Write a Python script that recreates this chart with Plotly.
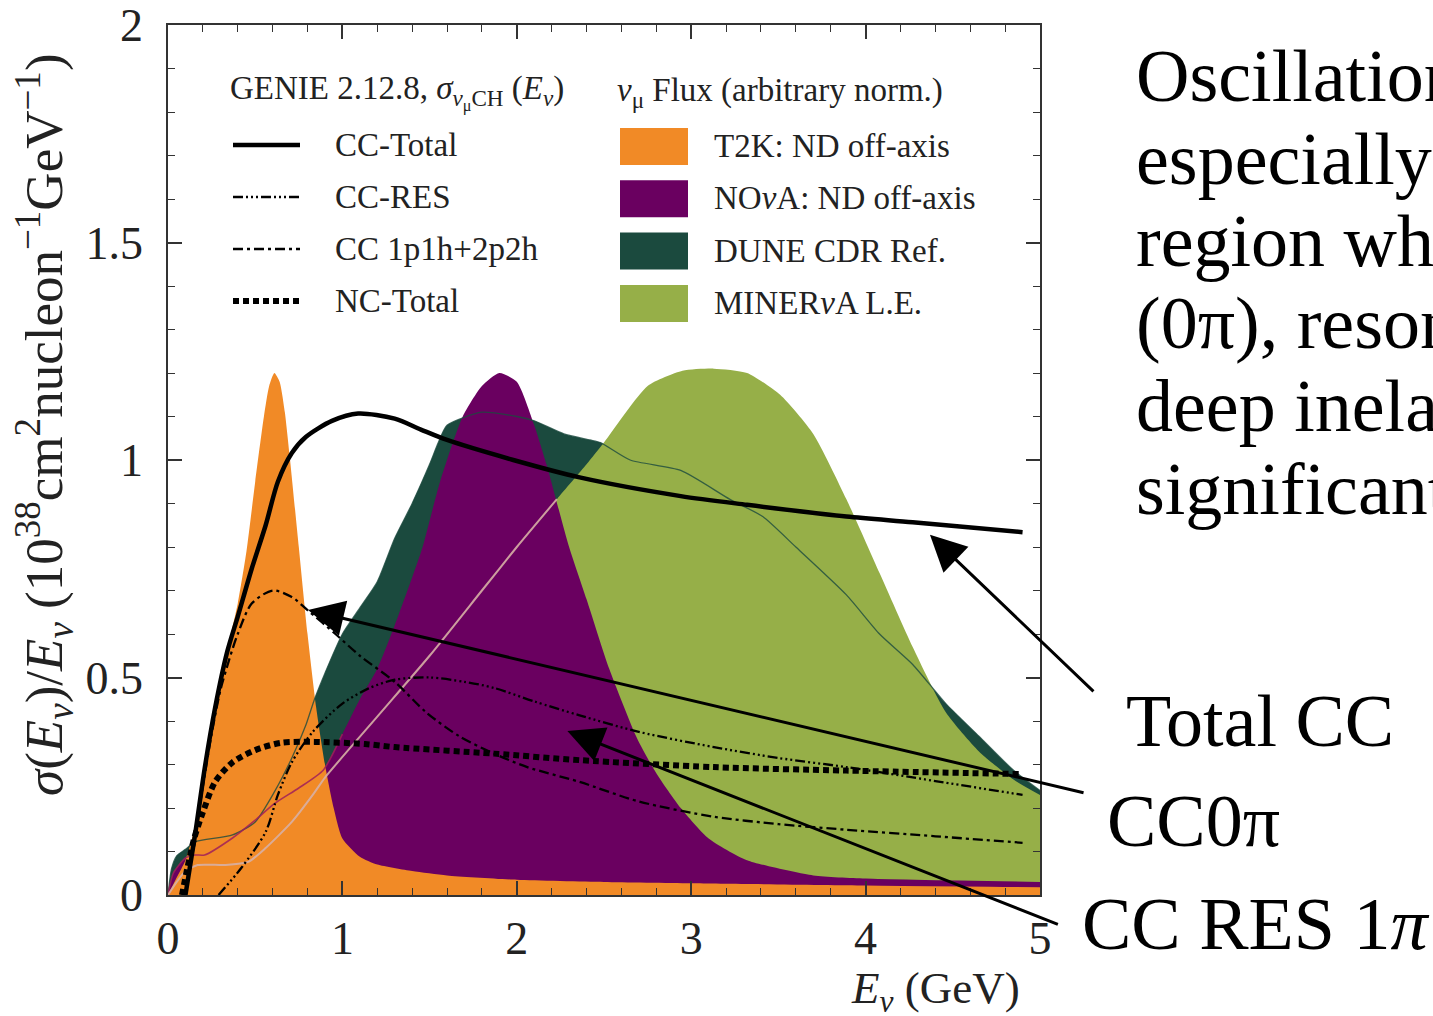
import plotly.graph_objects as go

# ---------------- data ----------------
# Flux shapes (arbitrary normalisation)
t2k_E = [0, 0.05, 0.1, 0.15, 0.2, 0.25, 0.3, 0.35, 0.4, 0.45, 0.5, 0.55, 0.58, 0.61, 0.64, 0.67, 0.7,
         0.75, 0.8, 0.85, 0.9, 0.95, 1.0, 1.1, 1.2, 1.4, 1.6, 2.0, 2.5, 3.0, 4.0, 5.0]
t2k_v = [0, 0.04, 0.08, 0.15, 0.28, 0.38, 0.48, 0.58, 0.67, 0.79, 0.95, 1.1, 1.17, 1.2, 1.18, 1.11, 1.0,
         0.8, 0.6, 0.43, 0.3, 0.2, 0.13, 0.088, 0.07, 0.055, 0.045, 0.035, 0.03, 0.027, 0.022, 0.018]

nova_E = [0, 0.03, 0.1, 0.155, 0.21, 0.37, 0.5, 0.61, 0.75, 0.89, 1.0, 1.1, 1.2, 1.3, 1.4, 1.46,
          1.56, 1.69, 1.8, 1.9, 2.0, 2.1, 2.17, 2.3, 2.4, 2.53, 2.69, 2.8, 2.94, 3.1, 3.32, 3.7,
          4.0, 5.0]
nova_v = [0, 0.05, 0.085, 0.092, 0.092, 0.131, 0.172, 0.21, 0.246, 0.287, 0.37, 0.45, 0.52, 0.62,
          0.73, 0.8, 0.95, 1.1, 1.17, 1.2, 1.18, 1.08, 0.99, 0.8, 0.68, 0.52, 0.36, 0.28, 0.2, 0.13,
          0.08, 0.045, 0.038, 0.03]

dune_E = [0, 0.02, 0.05, 0.1, 0.155, 0.37, 0.5, 0.61, 0.71, 0.79, 0.84, 0.9, 1.0, 1.1, 1.2, 1.3,
          1.4, 1.5, 1.55, 1.6, 1.8, 2.0, 2.1, 2.27, 2.42, 2.48, 2.65, 2.94, 3.22, 3.41, 3.6, 3.89,
          4.08, 4.27, 4.46, 4.65, 4.85, 5.0]
dune_v = [0, 0.06, 0.09, 0.105, 0.122, 0.138, 0.168, 0.237, 0.315, 0.39, 0.45, 0.51, 0.6, 0.66,
          0.72, 0.82, 0.9, 0.99, 1.04, 1.08, 1.11, 1.1, 1.09, 1.06, 1.046, 1.04, 1.0, 0.976, 0.91,
          0.87, 0.8, 0.69, 0.6, 0.53, 0.44, 0.365, 0.286, 0.24]

minerva_E = [0, 0.05, 0.1, 0.17, 0.33, 0.46, 0.56, 0.71, 0.83, 0.9, 1.2, 1.5, 1.8, 2.0, 2.23, 2.4,
             2.5, 2.75, 2.95, 3.13, 3.32, 3.51, 3.7, 3.89, 4.08, 4.27, 4.46, 4.65, 4.85, 5.0]
minerva_v = [0, 0.03, 0.055, 0.069, 0.069, 0.076, 0.108, 0.168, 0.23, 0.27, 0.41, 0.55, 0.7, 0.8,
             0.91, 0.99, 1.04, 1.17, 1.205, 1.21, 1.2, 1.15, 1.06, 0.91, 0.74, 0.57, 0.42, 0.33,
             0.265, 0.23]

# GENIE cross sections sigma/E (1e-38 cm^2 / nucleon / GeV)
cc_total_E = [0.1, 0.155, 0.21, 0.27, 0.34, 0.4, 0.48, 0.56, 0.63, 0.71, 0.79, 0.94, 1.09, 1.3,
              1.45, 1.6, 1.98, 2.36, 2.94, 3.32, 3.89, 4.27, 4.9]
cc_total_v = [0.0, 0.138, 0.29, 0.43, 0.56, 0.64, 0.75, 0.85, 0.95, 1.016, 1.053, 1.09, 1.107,
              1.095, 1.07, 1.046, 1.0, 0.96, 0.917, 0.897, 0.87, 0.857, 0.834]

cc_res_E = [0.29, 0.42, 0.56, 0.63, 0.71, 0.83, 1.0, 1.15, 1.3, 1.5, 1.7, 1.87, 2.1, 2.36, 2.7,
            3.13, 3.5, 3.89, 4.4, 4.9]
cc_res_v = [0.0, 0.062, 0.145, 0.23, 0.305, 0.375, 0.44, 0.475, 0.495, 0.5, 0.49, 0.476, 0.445,
            0.413, 0.375, 0.34, 0.315, 0.294, 0.262, 0.23]

cc_qe_E = [0.1, 0.15, 0.2, 0.25, 0.3, 0.35, 0.4, 0.48, 0.6, 0.71, 0.8, 0.96, 1.1, 1.3, 1.48,
           1.67, 1.87, 2.06, 2.36, 2.7, 3.13, 3.5, 3.89, 4.4, 4.9]
cc_qe_v = [0.0, 0.12, 0.25, 0.37, 0.47, 0.54, 0.6, 0.67, 0.70, 0.685, 0.655, 0.6, 0.55, 0.49,
           0.42, 0.365, 0.325, 0.294, 0.26, 0.215, 0.18, 0.163, 0.15, 0.135, 0.12]

nc_total_E = [0.08, 0.11, 0.15, 0.2, 0.27, 0.37, 0.5, 0.65, 0.84, 1.13, 1.3, 1.87, 2.36, 3.13,
              3.89, 4.9]
nc_total_v = [0.0, 0.06, 0.13, 0.19, 0.26, 0.305, 0.333, 0.35, 0.352, 0.347, 0.34, 0.325, 0.31,
              0.294, 0.286, 0.278]

flux_names = ["T2K: ND off-axis", "NO<i>ν</i>A: ND off-axis", "DUNE CDR Ref.", "MINER<i>ν</i>A L.E."]
xsec_names = ["CC-Total", "CC-RES", "CC 1p1h+2p2h", "NC-Total"]
x_tick_vals = [0, 1, 2, 3, 4, 5]
y_tick_vals = [0, 0.5, 1, 1.5, 2]

# ---------------- styles ----------------
C_T2K = "rgb(241,138,38)"
C_NOVA = "rgb(106,0,96)"
C_DUNE = "rgb(27,74,62)"
C_MIN = "rgb(150,175,72)"
SERIF = "Liberation Serif"

xsec_styles = {
    "CC-Total": dict(width=4.5, dash="solid"),
    "CC-RES": dict(width=2.3, dash="10px,3px,2px,3px,2px,3px,2px,3px"),
    "CC 1p1h+2p2h": dict(width=2.3, dash="10px,4px,3px,4px"),
    "NC-Total": dict(width=6, dash="6px,4px"),
}

fig = go.Figure()

# flux fills: DUNE at back, then MINERvA, NOvA, T2K on top
for E, v, col in [(dune_E, dune_v, C_DUNE), (minerva_E, minerva_v, C_MIN),
                  (nova_E, nova_v, C_NOVA), (t2k_E, t2k_v, C_T2K)]:
    fig.add_trace(go.Scatter(x=E, y=v, mode="lines", fill="tozeroy", fillcolor=col,
                             line=dict(width=0, color=col, shape="spline", smoothing=0.6),
                             hoverinfo="skip", showlegend=False))

# thin flux outlines drawn over the fills
fig.add_trace(go.Scatter(x=dune_E, y=dune_v, mode="lines",
                         line=dict(width=1.3, color="rgba(27,74,62,0.8)", shape="spline", smoothing=0.6),
                         hoverinfo="skip", showlegend=False))
fig.add_trace(go.Scatter(x=[e for e in nova_E if e <= 1.0], y=[v for e, v in zip(nova_E, nova_v) if e <= 1.0],
                         mode="lines",
                         line=dict(width=1.6, color="rgba(160,30,90,0.85)", shape="spline", smoothing=0.6),
                         hoverinfo="skip", showlegend=False))
fig.add_trace(go.Scatter(x=[e for e in minerva_E if e <= 2.3], y=[v for e, v in zip(minerva_E, minerva_v) if e <= 2.3],
                         mode="lines",
                         line=dict(width=2, color="rgba(215,175,165,0.9)", shape="spline", smoothing=0.6),
                         hoverinfo="skip", showlegend=False))

# cross-section curves
for name, E, v in [("NC-Total", nc_total_E, nc_total_v), ("CC 1p1h+2p2h", cc_qe_E, cc_qe_v),
                   ("CC-RES", cc_res_E, cc_res_v), ("CC-Total", cc_total_E, cc_total_v)]:
    st = xsec_styles[name]
    fig.add_trace(go.Scatter(x=E, y=v, mode="lines", name=name,
                             line=dict(color="black", width=st["width"], dash=st["dash"],
                                       shape="spline", smoothing=0.8),
                             hoverinfo="skip", showlegend=False))

# ---------------- layout helpers ----------------
L, R, T, B = 168, 1040, 25, 895


def px(x):
    return (x - L) / (R - L)


def py(y):
    return (B - y) / (B - T)


shapes = []
annotations = []

# legend, left column (cross sections)
annotations.append(dict(xref="paper", yref="paper", x=px(228), y=py(93), xanchor="left", yanchor="middle",
                        text="GENIE 2.12.8, <i>σ</i><sub><i>ν</i><sub>μ</sub>CH</sub> (<i>E</i><sub><i>ν</i></sub>)",
                        showarrow=False, font=dict(family=SERIF, size=33, color="#222")))
for i, name in enumerate(xsec_names):
    yc = 145 + 52 * i
    st = xsec_styles[name]
    shapes.append(dict(type="line", xref="paper", yref="paper", x0=px(233), x1=px(300), y0=py(yc), y1=py(yc),
                       line=dict(color="black", width=st["width"], dash=st["dash"])))
    annotations.append(dict(xref="paper", yref="paper", x=px(333), y=py(yc), xanchor="left", yanchor="middle",
                            text=name, showarrow=False, font=dict(family=SERIF, size=33, color="#222")))

# legend, right column (fluxes)
annotations.append(dict(xref="paper", yref="paper", x=px(615), y=py(93), xanchor="left", yanchor="middle",
                        text="<i>ν</i><sub>μ</sub> Flux (arbitrary norm.)",
                        showarrow=False, font=dict(family=SERIF, size=33, color="#222")))
for i, (name, col) in enumerate(zip(flux_names, [C_T2K, C_NOVA, C_DUNE, C_MIN])):
    top = 128 + 52.3 * i
    shapes.append(dict(type="rect", xref="paper", yref="paper", x0=px(620), x1=px(688),
                       y0=py(top + 37), y1=py(top), fillcolor=col, line=dict(width=0)))
    annotations.append(dict(xref="paper", yref="paper", x=px(712), y=py(top + 18), xanchor="left",
                            yanchor="middle", text=name, showarrow=False,
                            font=dict(family=SERIF, size=33, color="#222")))

# axis titles
annotations.append(dict(xref="paper", yref="paper", x=px(44), y=py(425), xanchor="center", yanchor="middle",
                        textangle=-90, showarrow=False,
                        text="<i>σ</i>(<i>E</i><sub><i>ν</i></sub>)/<i>E</i><sub><i>ν</i></sub> (10<sup>38</sup>cm<sup>2</sup>nucleon<sup>−1</sup>GeV<sup>−1</sup>)",
                        font=dict(family=SERIF, size=53, color="#222")))
annotations.append(dict(xref="paper", yref="paper", x=px(1022), y=py(991), xanchor="right", yanchor="middle",
                        text="<i>E</i><sub><i>ν</i></sub> (GeV)", showarrow=False,
                        font=dict(family=SERIF, size=45, color="#222")))

# right-hand text (cut by the page edge)
side_lines = ["Oscillation experiments", "especially in the", "region where", "(0π), resonant",
              "deep inelastic", "significant"]
for i, s in enumerate(side_lines):
    annotations.append(dict(xref="paper", yref="paper", x=px(1134), y=py(76 + 82.5 * i), xanchor="left",
                            yanchor="middle", text=s, showarrow=False,
                            font=dict(family=SERIF, size=74, color="black")))

labels = [("Total CC", 1124, 721), ("CC0π", 1105, 821), ("CC RES 1<i>π</i>", 1080, 924)]
for s, x, y in labels:
    annotations.append(dict(xref="paper", yref="paper", x=px(x), y=py(y), xanchor="left", yanchor="middle",
                            text=s, showarrow=False, font=dict(family=SERIF, size=74, color="black")))

# arrows (head on the curve, tail next to the label)
arrows = [(4.369, 0.828, 165, 158), (0.803, 0.655, 777, 183), (2.29, 0.377, 492, 194)]
for hx, hy, ax, ay in arrows:
    annotations.append(dict(xref="x", yref="y", x=hx, y=hy, ax=ax, ay=ay, axref="pixel", ayref="pixel",
                            text="", showarrow=True, arrowhead=2, arrowsize=2.4, arrowwidth=3,
                            arrowcolor="black", standoff=0))

axis_common = dict(showline=True, linecolor="#333", linewidth=1.6, mirror="allticks", ticks="inside",
                   ticklen=14, tickwidth=1.5, tickcolor="#333", showgrid=False, zeroline=False,
                   automargin=False,
                   tickfont=dict(family=SERIF, size=46, color="#222"))

fig.update_layout(
    width=1433, height=1016,
    margin=dict(l=L, r=1433 - R, t=T, b=1016 - B, autoexpand=False),
    paper_bgcolor="white", plot_bgcolor="white",
    showlegend=False,
    xaxis=dict(range=[0, 5], tickvals=x_tick_vals, ticklabelstandoff=2,
               minor=dict(dtick=0.2, ticks="inside", ticklen=7, tickcolor="#333", tickwidth=1.2),
               **axis_common),
    yaxis=dict(range=[0, 2], tickvals=y_tick_vals, ticklabelstandoff=14,
               minor=dict(dtick=0.1, ticks="inside", ticklen=7, tickcolor="#333", tickwidth=1.2),
               **axis_common),
    shapes=shapes,
    annotations=annotations,
)

fig.write_html("out.html")
